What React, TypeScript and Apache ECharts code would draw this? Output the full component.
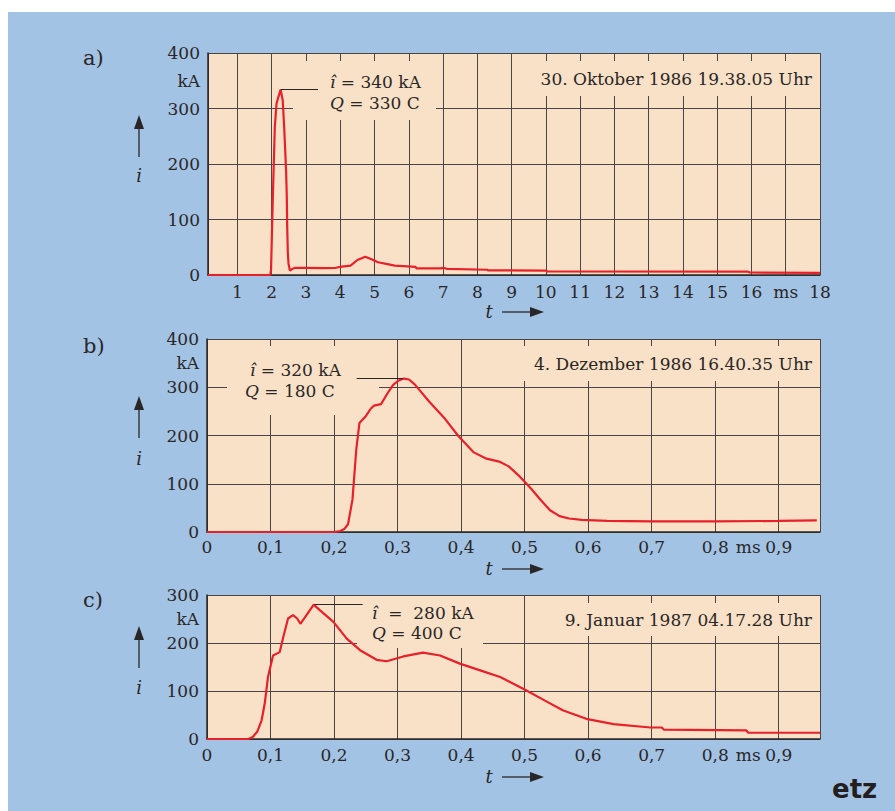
import React, { useEffect, useRef } from 'react';
import * as echarts from 'echarts';

// ---- Panel a) 30. Oktober 1986 (t in ms, i in kA)
const timeA = [0.14, 1.96, 1.98, 2.0, 2.03, 2.09, 2.14, 2.19, 2.26, 2.32, 2.36, 2.39, 2.42, 2.44, 2.45, 2.47, 2.49, 2.53, 2.6, 2.68, 3.0, 3.5, 3.87, 4.05, 4.3, 4.5, 4.73, 4.93, 5.1, 5.34, 5.59, 6.2, 6.22, 6.95, 7.0, 7.12, 8.29, 8.31, 10.0, 10.05, 15.9, 15.95, 18];
const currentA = [0, 0, 10, 60, 135, 267, 309, 320, 334, 315, 270, 230, 185, 140, 90, 40, 20, 8, 11, 13, 13, 12.5, 13, 15, 17, 27, 33, 28, 23, 20, 17, 14.5, 12, 12, 13, 11, 9.5, 8.5, 8, 6.5, 6, 4.5, 4];

// ---- Panel b) 4. Dezember 1986
const timeB = [0, 0.2, 0.21, 0.216, 0.222, 0.229, 0.235, 0.24, 0.25, 0.258, 0.263, 0.274, 0.283, 0.293, 0.302, 0.31, 0.318, 0.327, 0.35, 0.375, 0.395, 0.42, 0.44, 0.46, 0.475, 0.49, 0.51, 0.525, 0.54, 0.555, 0.57, 0.59, 0.63, 0.7, 0.8, 0.9, 0.96];
const currentB = [0, 0, 2, 6, 16, 67, 171, 226, 240, 256, 262, 265, 285, 305, 314, 318, 316, 306, 270, 234, 200, 165, 152, 146, 136, 118, 90, 67, 45, 33, 28, 25, 23, 22, 22, 23, 24];

// ---- Panel c) 9. Januar 1987
const timeC = [0, 0.065, 0.072, 0.079, 0.086, 0.091, 0.096, 0.104, 0.1145, 0.12, 0.1276, 0.1355, 0.142, 0.147, 0.1566, 0.168, 0.178, 0.199, 0.22, 0.241, 0.267, 0.283, 0.309, 0.34, 0.367, 0.398, 0.43, 0.4615, 0.5, 0.532, 0.56, 0.597, 0.64, 0.698, 0.716, 0.719, 0.849, 0.852, 0.965];
const currentC = [0, 0, 4, 15, 39, 75, 129, 174, 181, 212, 251, 258, 251, 240, 258, 280, 268, 244, 209, 185, 165, 162, 172, 180, 174, 157, 143, 129, 103, 80, 60, 42, 31, 24, 24, 19.5, 18, 13, 13];

// peak annotations: [t start, t end, level]
const leaderA = [2.26, 3.35, 334];
const leaderB = [0.2356, 0.3085, 319];
const leaderC = [0.1695, 0.245, 280];

// tick labels
const xLabelsA = [1, 2, 3, 4, 5, 6, 7, 8, 9, 10, 11, 12, 13, 14, 15, 16, 17, 18];
const xUnitA = 17;
const xLabelsBC = [0, 0.1, 0.2, 0.3, 0.4, 0.5, 0.6, 0.7, 0.8, 0.852, 0.9];
const xUnitBC = 0.852;
const yLabelsAB = [0, 100, 200, 300, 350, 400];
const yUnitAB = 350;
const yLabelsC = [0, 100, 200, 250, 300];
const yUnitC = 250;

const annotA = ['{i|î} = 340 kA', '{i|Q} = 330 C'];
const annotB = ['{i|î} = 320 kA', '{i|Q} = 180 C'];
const annotC = ['{i|î}  =  280 kA', '{i|Q} = 400 C'];
const dateA = '30. Oktober 1986 19.38.05 Uhr';
const dateB = '4. Dezember 1986 16.40.35 Uhr';
const dateC = '9. Januar 1987 04.17.28 Uhr';

const BLUE = '#a3c3e5';
const PEACH = '#f9e1c7';
const INK = '#2a2626';
const GRIDC = '#4a4444';
const RED = '#e8202a';
const FONT = 'DejaVu Serif';

const pairs = (t: number[], v: number[]) => t.map((x, i) => [x, v[i]]);

const fmtBC = (v: number) => {
  if (Math.abs(v - xUnitBC) < 1e-6) return 'ms';
  if (v === 0) return '0';
  return v.toFixed(1).replace('.', ',');
};

function xAxisBase(gridIndex: number, margin: number) {
  return {
    type: 'value',
    gridIndex,
    axisLine: { show: true, lineStyle: { color: INK, width: 1.5 } },
    axisTick: { show: false },
    splitLine: { show: true, lineStyle: { color: GRIDC, width: 1 } },
    axisLabel: { color: INK, fontSize: 17, fontFamily: FONT, margin },
  };
}
function yAxisBase(gridIndex: number, max: number, labels: number[], unit: number) {
  return {
    type: 'value',
    gridIndex,
    min: 0,
    max,
    interval: 100,
    axisLine: { show: true, lineStyle: { color: INK, width: 1.5 } },
    axisTick: { show: false },
    splitLine: { show: true, lineStyle: { color: GRIDC, width: 1 } },
    axisLabel: {
      color: INK,
      fontSize: 17,
      fontFamily: FONT,
      margin: 8,
      customValues: labels,
      formatter: (v: number) => (v === unit ? 'kA' : String(v)),
    },
  };
}

function lineSeries(idx: number, data: number[][], leader: number[]) {
  return {
    type: 'line',
    xAxisIndex: idx,
    yAxisIndex: idx,
    data,
    showSymbol: false,
    symbol: 'none',
    z: 3,
    lineStyle: { color: RED, width: 2.2 },
    markLine: {
      silent: true,
      symbol: 'none',
      label: { show: false },
      lineStyle: { color: INK, width: 1, type: 'solid' },
      data: [[{ coord: [leader[0], leader[2]] }, { coord: [leader[1], leader[2]] }]],
    },
  };
}

const txt = (x: number, y: number, text: string, extra: any = {}) => ({
  type: 'text',
  x,
  y,
  z: 20,
  style: {
    text,
    fill: INK,
    fontSize: 17,
    fontFamily: FONT,
    verticalAlign: 'middle',
    align: 'left',
    rich: { i: { fontStyle: 'italic', fontSize: 17, fontFamily: FONT, fill: INK } },
    ...extra,
  },
});
const box = (x: number, y: number, w: number, h: number) => ({
  type: 'rect',
  z: 1,
  shape: { x, y, width: w, height: h },
  style: { fill: PEACH },
});
const upArrow = (x: number, top: number, bottom: number) => [
  { type: 'polygon', z: 20, shape: { points: [[x, top], [x - 5, top + 14], [x + 5, top + 14]] }, style: { fill: INK } },
  { type: 'line', z: 20, shape: { x1: x, y1: top + 13, x2: x, y2: bottom }, style: { stroke: INK, lineWidth: 1.3 } },
];
const rightArrow = (y: number) => [
  txt(481, y - 1, 't', { fontStyle: 'italic', align: 'center', fontSize: 18 }),
  { type: 'line', z: 20, shape: { x1: 494, y1: y, x2: 524, y2: y }, style: { stroke: INK, lineWidth: 1.3 } },
  { type: 'polygon', z: 20, shape: { points: [[522, y - 5], [536, y], [522, y + 5]] }, style: { fill: INK } },
];

export default function App() {
  const ref = useRef<HTMLDivElement>(null);
  useEffect(() => {
    if (!ref.current) return;
    const chart = echarts.init(ref.current, null, { renderer: 'svg' });
    const option: any = {
      animation: false,
      backgroundColor: BLUE,
      grid: [
        { left: 200, top: 41, width: 612, height: 222, show: true, backgroundColor: PEACH, borderWidth: 0 },
        { left: 199, top: 327, width: 613, height: 193, show: true, backgroundColor: PEACH, borderWidth: 0 },
        { left: 199, top: 583, width: 613, height: 144, show: true, backgroundColor: PEACH, borderWidth: 0 },
      ],
      xAxis: [
        {
          ...xAxisBase(0, 8),
          min: 0.14,
          max: 18,
          splitNumber: 18,
          minInterval: 1,
          maxInterval: 1,
          axisLabel: {
            ...xAxisBase(0, 8).axisLabel,
            customValues: xLabelsA,
            formatter: (v: number) => (v === xUnitA ? 'ms' : String(v)),
          },
        },
        {
          ...xAxisBase(1, 6),
          min: 0,
          max: 0.965,
          interval: 0.1,
          axisLabel: { ...xAxisBase(1, 6).axisLabel, customValues: xLabelsBC, formatter: fmtBC },
        },
        {
          ...xAxisBase(2, 7),
          min: 0,
          max: 0.965,
          interval: 0.1,
          axisLabel: { ...xAxisBase(2, 7).axisLabel, customValues: xLabelsBC, formatter: fmtBC },
        },
      ],
      yAxis: [
        yAxisBase(0, 400, yLabelsAB, yUnitAB),
        yAxisBase(1, 400, yLabelsAB, yUnitAB),
        yAxisBase(2, 300, yLabelsC, yUnitC),
      ],
      series: [
        lineSeries(0, pairs(timeA, currentA), leaderA),
        lineSeries(1, pairs(timeB, currentB), leaderB),
        lineSeries(2, pairs(timeC, currentC), leaderC),
      ],
      graphic: [
        // text backgrounds
        box(285, 49, 143, 59),
        box(517, 49, 294, 35),
        box(219, 334, 152, 69),
        box(507, 334, 304, 35),
        box(349, 584, 126, 52),
        box(537, 591, 274, 33),
        // panel letters
        txt(75, 46, 'a)', { fontSize: 21 }),
        txt(75, 334, 'b)', { fontSize: 21 }),
        txt(75, 588, 'c)', { fontSize: 21 }),
        // y arrows and i
        ...upArrow(131, 103, 145),
        txt(131, 163, 'i', { fontStyle: 'italic', align: 'center', fontSize: 18 }),
        ...upArrow(131, 384, 426),
        txt(131, 446, 'i', { fontStyle: 'italic', align: 'center', fontSize: 18 }),
        ...upArrow(131, 614, 656),
        txt(131, 675, 'i', { fontStyle: 'italic', align: 'center', fontSize: 18 }),
        // t arrows
        ...rightArrow(300),
        ...rightArrow(557),
        ...rightArrow(765),
        // annotations
        txt(322, 70, annotA[0]),
        txt(322, 91, annotA[1]),
        txt(804, 67, dateA, { align: 'right' }),
        txt(242, 358, annotB[0]),
        txt(237, 379, annotB[1]),
        txt(804, 352, dateB, { align: 'right' }),
        txt(364, 601, annotC[0]),
        txt(364, 621, annotC[1]),
        txt(804, 608, dateC, { align: 'right' }),
        // logo
        {
          type: 'text',
          x: 824,
          y: 777,
          z: 20,
          style: {
            text: 'etz',
            fill: '#231f20',
            fontSize: 26,
            fontWeight: 'bold',
            fontFamily: 'DejaVu Sans',
            verticalAlign: 'middle',
            align: 'left',
          },
        },
      ],
    };
    chart.setOption(option);
    return () => chart.dispose();
  }, []);
  return (
    <div
      ref={ref}
      style={{ position: 'absolute', left: 8, top: 12, width: 887, height: 799, background: BLUE }}
    />
  );
}
